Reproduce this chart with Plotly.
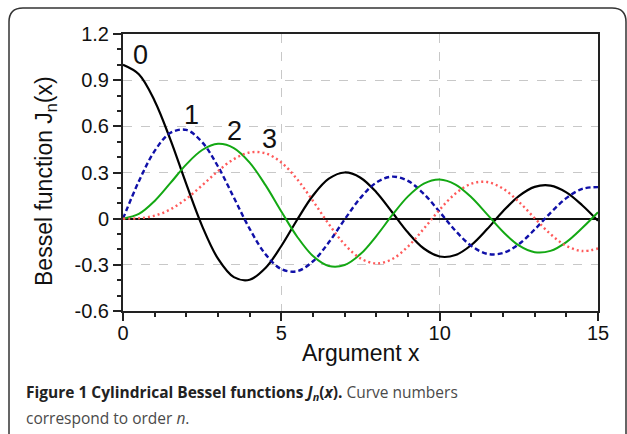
import plotly.graph_objects as go

# ---- data ----
x_vals = [0, 0.5, 1, 1.5, 2, 2.5, 3, 3.5, 4, 4.5, 5, 5.5, 6, 6.5, 7, 7.5, 8, 8.5, 9, 9.5,
          10, 10.5, 11, 11.5, 12, 12.5, 13, 13.5, 14, 14.5, 15]
j0 = [1.0, 0.9385, 0.7652, 0.5118, 0.2239, -0.0484, -0.2601, -0.3801, -0.3971, -0.3205,
      -0.1776, -0.0068, 0.1506, 0.2601, 0.3001, 0.2663, 0.1717, 0.0419, -0.0903, -0.1939,
      -0.2459, -0.2366, -0.1712, -0.0677, 0.0477, 0.1469, 0.2069, 0.2150, 0.1711, 0.0875, -0.0142]
j1 = [0.0, 0.2423, 0.4401, 0.5579, 0.5767, 0.4971, 0.3391, 0.1374, -0.0660, -0.2311,
      -0.3276, -0.3414, -0.2767, -0.1538, -0.0047, 0.1352, 0.2346, 0.2731, 0.2453, 0.1613,
      0.0435, -0.0789, -0.1768, -0.2284, -0.2234, -0.1655, -0.0703, 0.0380, 0.1334, 0.1934, 0.2051]
j2 = [0.0, 0.0306, 0.1149, 0.2321, 0.3528, 0.4461, 0.4861, 0.4586, 0.3641, 0.2178,
      0.0466, -0.1173, -0.2429, -0.3074, -0.3014, -0.2303, -0.1130, 0.0223, 0.1448, 0.2279,
      0.2546, 0.2216, 0.1390, 0.0279, -0.0849, -0.1734, -0.2177, -0.2094, -0.1520, -0.0609, 0.0416]
j3 = [0.0, 0.0026, 0.0196, 0.0610, 0.1289, 0.2166, 0.3091, 0.3868, 0.4302, 0.4247,
      0.3648, 0.2561, 0.1148, -0.0353, -0.1676, -0.2581, -0.2911, -0.2626, -0.1809, -0.0653,
      0.0584, 0.1633, 0.2273, 0.2381, 0.1951, 0.1100, 0.0033, -0.1000, -0.1768, -0.2102, -0.1940]

curve_labels = ["0", "1", "2", "3"]
label_x = [0.55, 2.16, 3.53, 4.64]
label_y = [1.066, 0.676, 0.567, 0.52]

y_tickvals = [1.2, 0.9, 0.6, 0.3, 0, -0.3, -0.6]
y_ticktext = ["1.2", "0.9", "0.6", "0.3", "0", "-0.3", "-0.6"]
x_tickvals = [0, 5, 10, 15]
x_ticktext = ["0", "5", "10", "15"]

x_title = "Argument x"
y_title = "Bessel function J<sub>n</sub>(x)"
caption1 = ("<b><span style='color:#222'>Figure 1 Cylindrical Bessel functions "
            "<i>J<sub>n</sub></i>(<i>x</i>).</span></b>"
            "<span style='color:#4a4a4a'> Curve numbers</span>")
caption2 = "<span style='color:#4a4a4a'>correspond to order <i>n</i>.</span>"

# ---- figure ----
W, H = 627, 434
L, R, T, B = 123, 598, 34, 311


def px(xp):
    return (xp - L) / (R - L)


def py(yp):
    return (B - yp) / (B - T)


fig = go.Figure()
series = [
    (j0, "#000000", "solid", 2.2),
    (j1, "#1010a8", "5px,3px", 2.4),
    (j2, "#13a813", "solid", 2.0),
    (j3, "#ff5a5a", "2px,3px", 2.4),
]
for ys, col, dash, w in series:
    fig.add_trace(go.Scatter(x=x_vals, y=ys, mode="lines",
                             line=dict(color=col, dash=dash, width=w, shape="spline", smoothing=1.0),
                             showlegend=False, hoverinfo="skip"))

for t, xx, yy in zip(curve_labels, label_x, label_y):
    fig.add_annotation(x=xx, y=yy, text=t, showarrow=False,
                       font=dict(family="Liberation Sans, Arial", size=27, color="#111"))

font_axis = dict(family="Liberation Sans, Arial", size=20, color="#111")
fig.update_xaxes(range=[0, 15], tickvals=x_tickvals, ticktext=x_ticktext,
                 ticks="outside", ticklen=8, tickwidth=1.5, tickcolor="#222",
                 ticklabelstandoff=-5,
                 showline=True, linecolor="#222", linewidth=2, mirror=True,
                 showgrid=True, gridcolor="#c8c8c8", griddash="dash", gridwidth=1,
                 zeroline=False, tickfont=font_axis,
                 minor=dict(dtick=1, ticks="outside", ticklen=4, tickcolor="#222", showgrid=False))
fig.update_yaxes(range=[-0.6, 1.2], tickvals=y_tickvals, ticktext=y_ticktext,
                 ticks="outside", ticklen=8, tickwidth=1.5, tickcolor="#222",
                 showline=True, linecolor="#222", linewidth=2, mirror=True,
                 showgrid=True, gridcolor="#c8c8c8", griddash="dash", gridwidth=1,
                 zeroline=True, zerolinecolor="#111", zerolinewidth=1.5, tickfont=font_axis,
                 minor=dict(tick0=0, dtick=0.1, ticks="outside", ticklen=4, tickcolor="#222", showgrid=False))

fig.add_annotation(xref="paper", yref="paper", x=px(361), y=py(353), text=x_title,
                   showarrow=False, xanchor="center", yanchor="middle",
                   font=dict(family="Liberation Sans, Arial", size=23, color="#111"))
fig.add_annotation(xref="paper", yref="paper", x=px(45), y=py(181), text=y_title,
                   showarrow=False, textangle=-90, xanchor="center", yanchor="middle",
                   font=dict(family="Liberation Sans, Arial", size=23, color="#111"))
fig.add_annotation(xref="paper", yref="paper", x=px(24), y=py(392), text=caption1,
                   showarrow=False, xanchor="left", yanchor="middle",
                   font=dict(family="Open Sans", size=15.5, color="#333"))
fig.add_annotation(xref="paper", yref="paper", x=px(24), y=py(418), text=caption2,
                   showarrow=False, xanchor="left", yanchor="middle",
                   font=dict(family="Open Sans", size=15.5, color="#4a4a4a"))

# outer rounded frame
xl, xr, yt, yb = px(9), px(626), py(8), py(450)
rx, ry = 14 / (R - L), 14 / (B - T)
path = (f"M {xl},{yb} L {xl},{yt - ry} Q {xl},{yt} {xl + rx},{yt} "
        f"L {xr - rx},{yt} Q {xr},{yt} {xr},{yt - ry} L {xr},{yb}")
fig.add_shape(type="path", xref="paper", yref="paper", path=path,
              line=dict(color="#333", width=1.5), layer="below")

fig.update_layout(width=W, height=H, margin=dict(l=L, r=W - R, t=T, b=H - B),
                  paper_bgcolor="white", plot_bgcolor="white")

fig.write_html("out.html", config={"displayModeBar": False},
               post_script="document.body.style.margin='0px';document.body.style.padding='0px';")
